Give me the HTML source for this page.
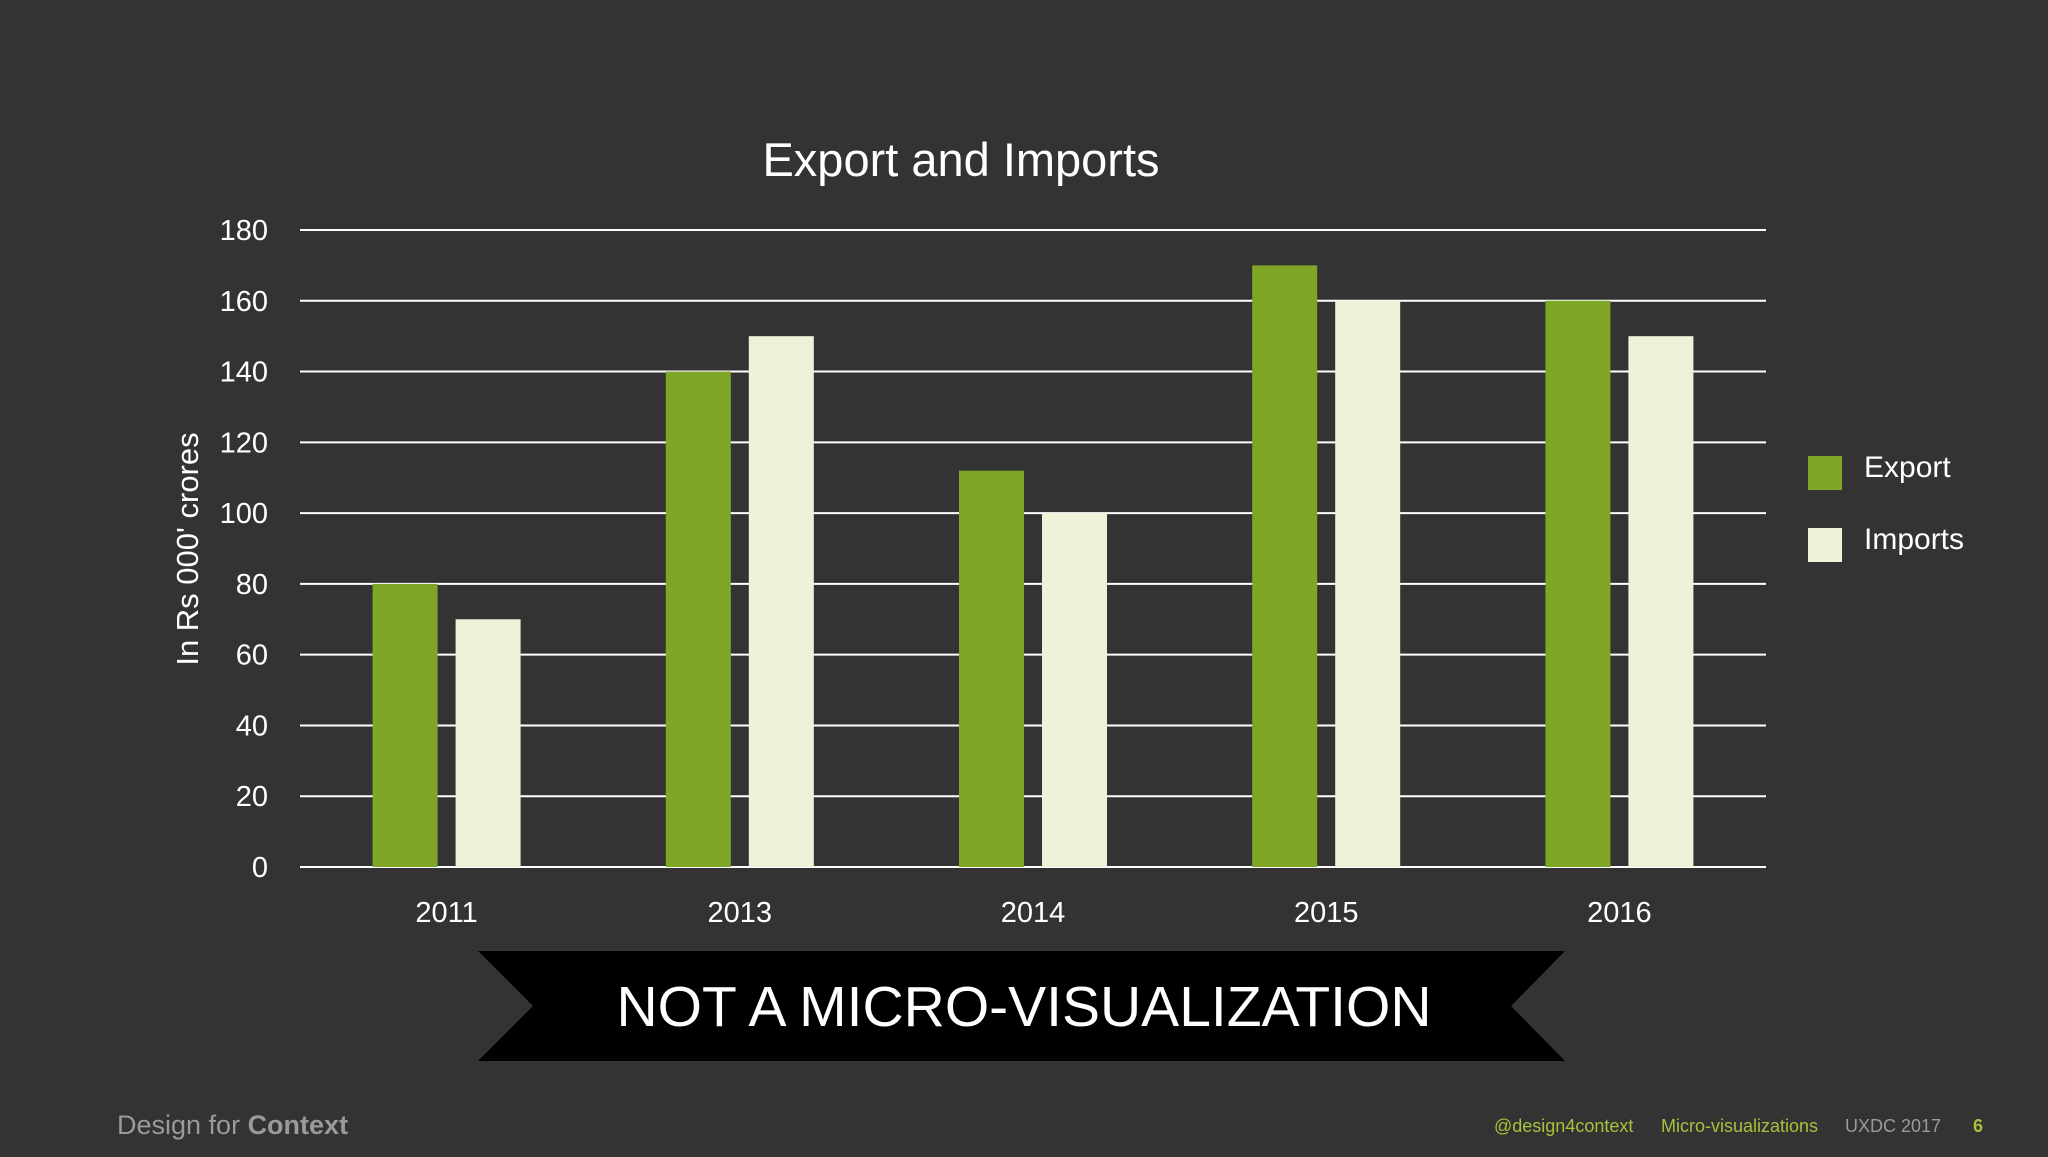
<!DOCTYPE html>
<html><head><meta charset="utf-8"><style>
html,body{margin:0;padding:0;background:#333333;}
body{width:2048px;height:1152px;overflow:hidden;font-family:"Liberation Sans","DejaVu Sans",sans-serif;}
</style></head><body>
<svg id="chart" width="2048" height="1152" viewBox="0 0 2048 1152" xmlns="http://www.w3.org/2000/svg">
<rect x="0" y="0" width="2048" height="1152" fill="#333333"/>
<text x="961" y="176" text-anchor="middle" font-size="47" fill="#ffffff">Export and Imports</text>
<text transform="translate(198,549) rotate(-90)" text-anchor="middle" font-size="31" fill="#ffffff">In Rs 000' crores</text>
<g id="grid"></g>
<g id="bars"></g>
<g id="labels"></g>
<g>
<rect x="1808" y="456" width="34" height="34" fill="#7fa627"/>
<text x="1864" y="469" font-size="30" fill="#ffffff" dominant-baseline="middle">Export</text>
<rect x="1808" y="528" width="34" height="34" fill="#eef2d9"/>
<text x="1864" y="541" font-size="30" fill="#ffffff" dominant-baseline="middle">Imports</text>
</g>
<polygon points="478,951 1565,951 1511,1006 1565,1061 478,1061 533,1006" fill="#000000"/>
<text x="1024" y="1026" text-anchor="middle" font-size="57" fill="#ffffff">NOT A MICRO-VISUALIZATION</text>
<text x="117" y="1134" font-size="27" fill="#9a9a9a">Design for <tspan font-weight="bold">Context</tspan></text>
<text x="1494" y="1132" font-size="18" fill="#a5c23a">@design4context</text>
<text x="1661" y="1132" font-size="18" fill="#a5c23a">Micro-visualizations</text>
<text x="1845" y="1132" font-size="18" fill="#9a9a9a">UXDC 2017</text>
<text x="1973" y="1132" font-size="18" fill="#a5c23a" font-weight="bold">6</text>
</svg>
<script>
const categories = ["2011","2013","2014","2015","2016"];
const exportValues = [80,140,112,170,160];
const importValues = [70,150,100,160,150];
const yTicks = [0,20,40,60,80,100,120,140,160,180];

const NS="http://www.w3.org/2000/svg";
const x0=300, x1=1766, yBase=867, yTop=230, yMax=180;
const band=(x1-x0)/categories.length;
function yScale(v){return yBase-(v/yMax)*(yBase-yTop);}
function xCenter(i){return x0+band*(i+0.5);}
function mk(tag,attrs){const e=document.createElementNS(NS,tag);for(const k in attrs)e.setAttribute(k,attrs[k]);return e;}
const grid=document.getElementById('grid'), bars=document.getElementById('bars'), labels=document.getElementById('labels');
yTicks.forEach(t=>{
  const l=mk('line',{x1:x0,x2:x1,y1:yScale(t),y2:yScale(t),stroke:'#ffffff','stroke-width':2});
  
  
  grid.appendChild(l);
  const tx=mk('text',{x:268,y:yScale(t)+10,'text-anchor':'end','font-size':29,fill:'#ffffff'});
  tx.textContent=t;
  
  
  labels.appendChild(tx);
});
const bw=65;
categories.forEach((c,i)=>{
  const cx=xCenter(i);
  const e=mk('rect',{x:cx-74,y:yScale(exportValues[i]),width:bw,height:yBase-yScale(exportValues[i]),fill:'#7fa627'});
  
  
  bars.appendChild(e);
  const m=mk('rect',{x:cx+9,y:yScale(importValues[i]),width:bw,height:yBase-yScale(importValues[i]),fill:'#eef2d9'});
  
  
  bars.appendChild(m);
  const tx=mk('text',{x:cx,y:922,'text-anchor':'middle','font-size':29,fill:'#ffffff'});
  tx.textContent=c;
  
  
  labels.appendChild(tx);
});
</script>
</body></html>
